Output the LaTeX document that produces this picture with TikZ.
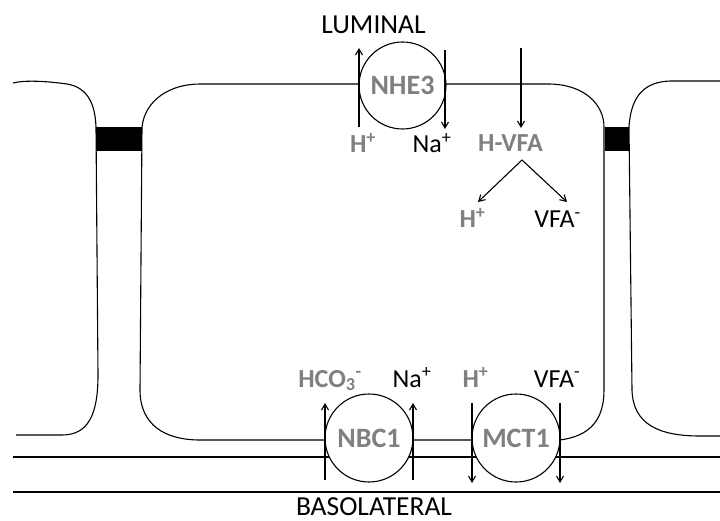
\documentclass[tikz,border=0pt]{standalone}
\usepackage{fontspec}
\setmainfont{Carlito}
\usetikzlibrary{arrows.meta}
\definecolor{labgray}{gray}{0.5}
\begin{document}
\begin{tikzpicture}[x=1pt,y=-1pt,
  memb/.style={line width=1.1pt},
  transp/.style={circle,draw,line width=1.1pt,fill=white,inner sep=0pt,
    font=\fontsize{28}{30}\selectfont\bfseries,text=labgray},
  ion/.style={inner sep=0pt,anchor=base,font=\fontsize{26}{28}\selectfont},
  gion/.style={ion,font=\fontsize{26}{28}\selectfont\bfseries,text=labgray},
  side/.style={inner sep=0pt,font=\fontsize{27.5}{30}\selectfont},
  flux/.style={line width=1.1pt,-{Straight Barb[length=6pt,width=7pt]}},
  tjbox/.style={fill=black}]
\useasboundingbox (0,0) rectangle (720,521);

% cells
\draw[memb] (13,83) .. controls (25,80) and (45,81) .. (67,84)
  .. controls (85,87) and (95,100) .. (96,127) -- (98,375)
  .. controls (98,415) and (88,435) .. (62,435) -- (16,435);
\draw[memb] (200,84) .. controls (170,84) and (145,100) .. (142,127)
  -- (140,390) .. controls (140,425) and (165,440) .. (200,440)
  -- (560,440) .. controls (590,436) and (604,420) .. (604,390)
  -- (604,127) .. controls (604,105) and (585,84) .. (548,84) -- cycle;
\draw[memb] (720,81) -- (670,81) .. controls (645,82) and (631,95) .. (629,127)
  -- (632,390) .. controls (633,425) and (660,436) .. (700,436) -- (720,436);
\draw[memb] (13,457) -- (720,457);
\draw[memb] (13,492) -- (720,492);

% tight junctions
\fill[tjbox] (96,127) rectangle (142,151);
\fill[tjbox] (605,127) rectangle (629,151);

% transporters
\node[transp,minimum size=87pt] (nhe3) at (402.5,85.5) {NHE3};
\node[transp,minimum size=88pt] (nbc1) at (369,438) {NBC1};
\node[transp,minimum size=88pt] (mct1) at (516,438) {MCT1};

% side labels
\node[side] (lum) at (373.5,25) {LUMINAL};
\node[side] (baso) at (374,506.5) {BASOLATERAL};

% ion labels
\node[gion] (h1) at (363,153) {H\textsuperscript{+}};
\node[ion] (na1) at (432,153) {Na\textsuperscript{+}};
\node[gion] (hvfa) at (510.5,152) {H-VFA};
\node[gion] (h2) at (472.5,228) {H\textsuperscript{+}};
\node[ion] (vfa2) at (557.5,228) {VFA\textsuperscript{-}};
\node[gion] (hco3) at (330,387) {HCO\textsubscript{3}\textsuperscript{-}};
\node[ion] (na2) at (412,387) {Na\textsuperscript{+}};
\node[gion] (h3) at (475.5,387) {H\textsuperscript{+}};
\node[ion] (vfa3) at (557,387) {VFA\textsuperscript{-}};

% flux coordinates
\coordinate (a1s) at (359,127); \coordinate (a1e) at (359,48);
\coordinate (a2s) at (445,50);  \coordinate (a2e) at (445,129);
\coordinate (a3s) at (521,48);  \coordinate (a3e) at (521,128);
\coordinate (split) at (522,160);
\coordinate (hend) at (478,202); \coordinate (vend) at (567,202);
\coordinate (b1s) at (325,480); \coordinate (b1e) at (325,403);
\coordinate (b2s) at (413,480); \coordinate (b2e) at (413,403);
\coordinate (c1s) at (472,403); \coordinate (c1e) at (472,483);
\coordinate (c2s) at (560,403); \coordinate (c2e) at (560,483);

\draw[flux] (a1s) -- (a1e);
\draw[flux] (a2s) -- (a2e);
\draw[flux] (a3s) -- (a3e);
\draw[flux] (split) -- (hend);
\draw[flux] (split) -- (vend);
\draw[flux] (b1s) -- (b1e);
\draw[flux] (b2s) -- (b2e);
\draw[flux] (c1s) -- (c1e);
\draw[flux] (c2s) -- (c2e);
\end{tikzpicture}
\end{document}
